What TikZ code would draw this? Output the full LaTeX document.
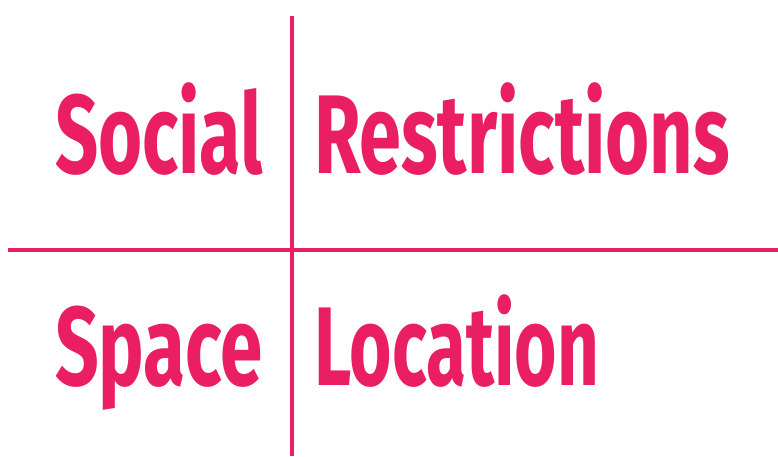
\documentclass[tikz,border=0pt]{standalone}
\usepackage{fontspec}
\usepackage{graphicx}
\setmainfont{Fira Sans}
\definecolor{rosered}{HTML}{E91E63}
\newcommand\fitword[2]{\setbox0\hbox{#2}\pgfmathsetmacro\myxs{#1/\the\wd0}\scalebox{\myxs}[1]{\box0}}
\tikzset{
  word/.style={anchor=base west, inner sep=0pt, outer sep=0pt, text=rosered,
    font=\fontsize{112}{112}\selectfont\bfseries},
  rule/.style={draw=rosered, line width=3.5pt}
}
\begin{document}
\begin{tikzpicture}[x=1pt,y=1pt]
\useasboundingbox (0,0) rectangle (778,456);
\coordinate (vtop) at (291.8,440);
\coordinate (vbot) at (291.8,0);
\coordinate (hl) at (8,206);
\coordinate (hr) at (778,206);
\draw[rule] (vtop) -- (vbot);
\draw[rule] (hl) -- (hr);
\node[word] (social) at (55,283) {\fitword{208pt}{Social}};
\node[word] (restr) at (314,283) {\fitword{416pt}{Restrictions}};
\node[word] (space) at (55,71) {\fitword{208pt}{Space}};
\node[word] (loc) at (314,71) {\fitword{285pt}{Location}};
\end{tikzpicture}
\end{document}
